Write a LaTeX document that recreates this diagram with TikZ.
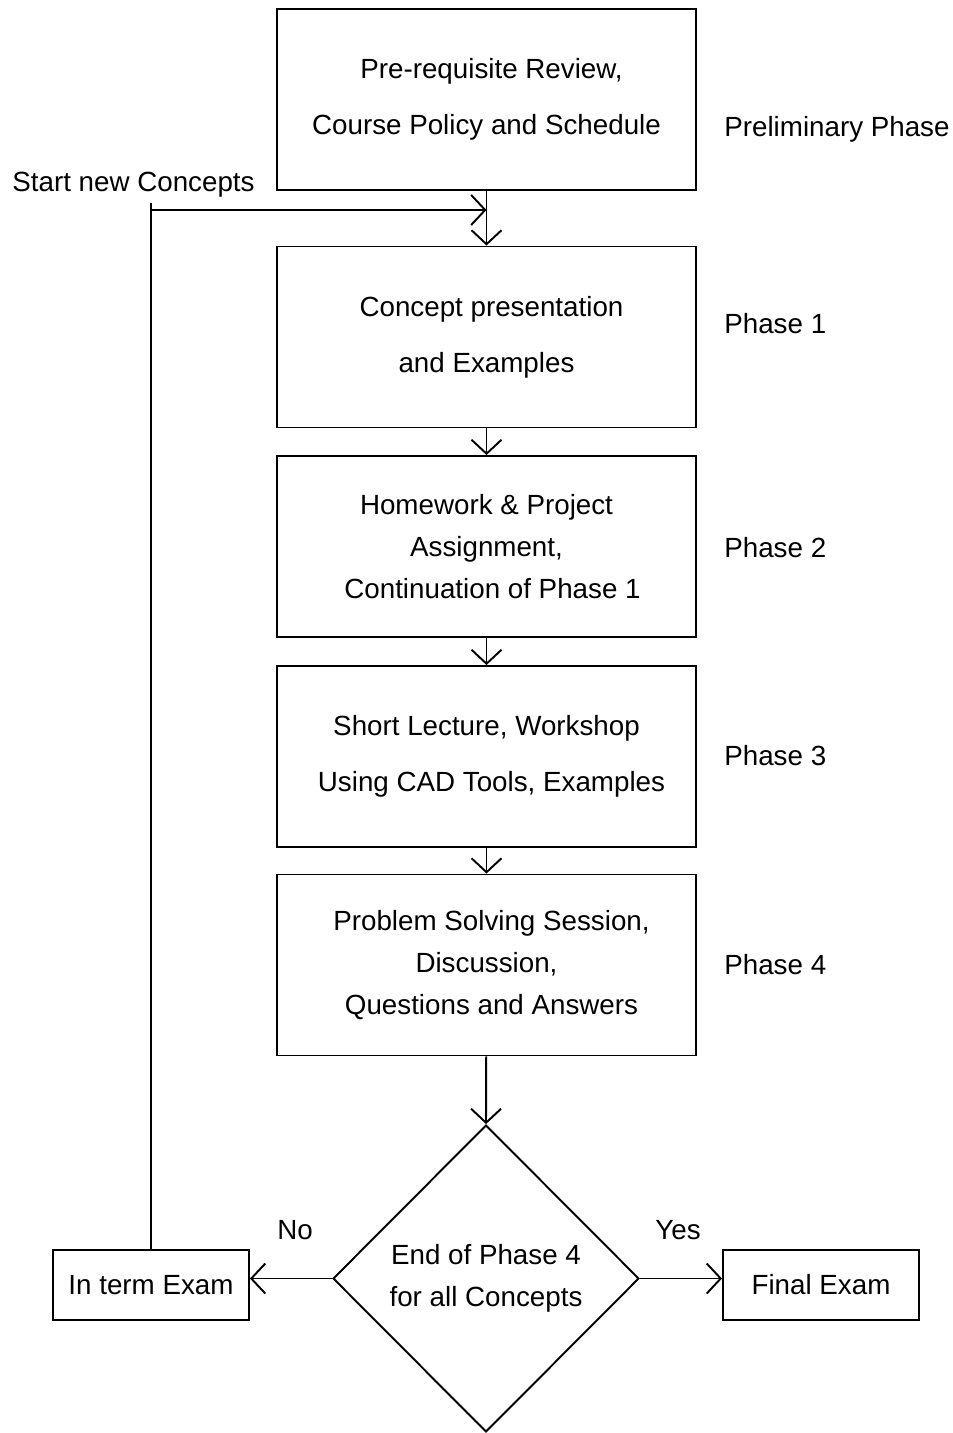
\documentclass[tikz,border=0pt]{standalone}
\usepackage{fontspec}
\setmainfont{Liberation Sans}
\usetikzlibrary{arrows.meta,shapes.geometric}
\tikzset{
  stepbox/.style={draw, line width=1.1pt, minimum width=8.38cm, minimum height=3.62cm,
    align=center, inner sep=0pt, font=\fontsize{15.8}{23.9}\selectfont},
  widebox/.style={stepbox, font=\fontsize{15.8}{31.9}\selectfont},
  exambox/.style={draw, line width=1.1pt, minimum width=3.92cm, minimum height=1.4cm,
    inner sep=0pt, font=\fontsize{15.8}{19}\selectfont},
  phaselabel/.style={anchor=west, inner sep=0pt, font=\fontsize{15.8}{19}\selectfont},
  flow/.style={line width=1.1pt, -{Straight Barb[length=0.28cm, width=0.6cm, line width=1.1pt]}},
}
\begin{document}
\begin{tikzpicture}[x=0.02cm, y=-0.02cm]
        \useasboundingbox (0,0) rectangle (953,1433);
        % steps of the course
        \node [widebox] (pre) at (486.5,99.5) {\hspace*{0.2cm}Pre-requisite Review,\\Course Policy and Schedule};
        \node [widebox] (concept) at (486.5,337) {\hspace*{0.2cm}Concept presentation\\and Examples};
        \node [stepbox] (homework) at (486.5,546.5) {Homework \& Project\\Assignment,\\\hspace*{0.24cm}Continuation of Phase 1};
        \node [widebox] (workshop) at (486.5,756.5) {Short Lecture, Workshop\\\hspace*{0.2cm}Using CAD Tools, Examples};
        \node [stepbox] (solving) at (486.5,965) {\hspace*{0.2cm}Problem Solving Session,\\Discussion,\\\hspace*{0.2cm}Questions and Answers};
        \node [draw, diamond, line width=1.1pt, minimum width=6.12cm, minimum height=6.14cm,
               inner sep=0pt, align=center, font=\fontsize{15.8}{23.9}\selectfont]
               (decision) at (486,1278.5) {End of Phase 4\\for all Concepts};
        \node [exambox] (interm) at (151,1285) {In term Exam};
        \node [exambox] (final) at (821,1285) {Final Exam};
        % phase names
        \node [phaselabel] (prelim) at (724,129) {Preliminary Phase};
        \node [phaselabel] (ph1) at (724,324) {Phase 1};
        \node [phaselabel] (ph2) at (724,548) {Phase 2};
        \node [phaselabel] (ph3) at (724,756) {Phase 3};
        \node [phaselabel] (ph4) at (724,965) {Phase 4};
        \node [phaselabel] (start) at (12,185) {Start new Concepts};
        \node [phaselabel, anchor=center] (no) at (295,1230) {No};
        \node [phaselabel, anchor=center] (yes) at (678,1230) {Yes};
        % connectors
        \coordinate (join) at (486.5,210);
        \draw [flow] (interm.north) |- (join);
        \draw [line width=1.1pt] (interm.north |- join) -- ++(0,-7);
        \draw [flow] (pre) -- (concept);
        \draw [flow] (concept) -- (homework);
        \draw [flow] (homework) -- (workshop);
        \draw [flow] (workshop) -- (solving);
        \draw [flow] (solving) -- (decision.north);
        \draw [flow] (decision.west) -- (decision.west -| interm.east);
        \draw [flow] (decision.east) -- (decision.east -| final.west);
\end{tikzpicture}
\end{document}
